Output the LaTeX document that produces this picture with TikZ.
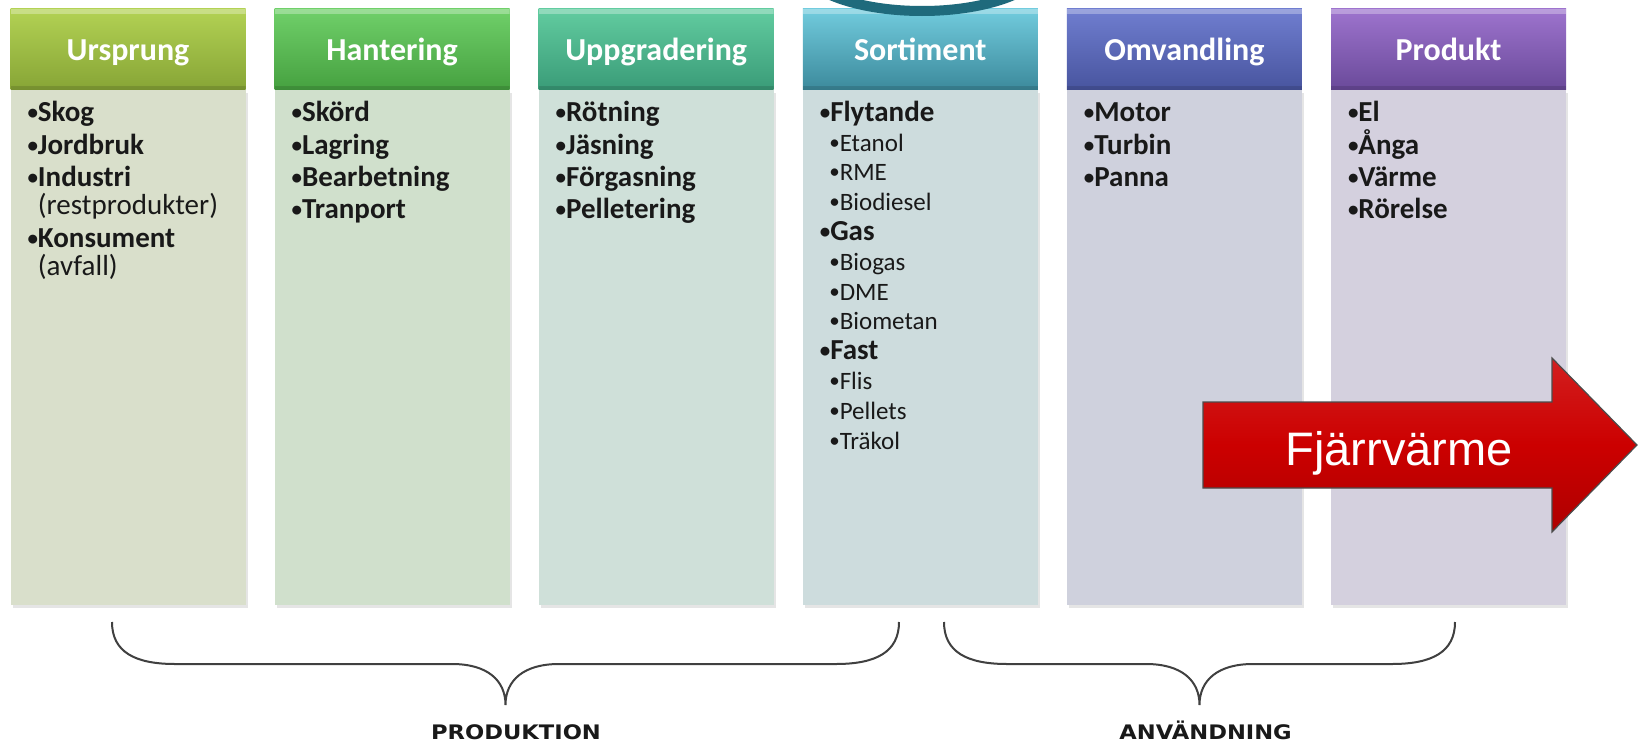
\documentclass[tikz,border=0pt]{standalone}
\usepackage{fontspec}
\setmainfont{Carlito}
\newfontfamily\arrowfont{Liberation Sans}
\newfontfamily\bracefont{DejaVu Sans}
\usetikzlibrary{positioning,shadows}

% header / body colours
\definecolor{urspTop}{HTML}{B3D254}
\definecolor{urspBot}{HTML}{87A536}
\definecolor{urspBody}{HTML}{D9DFCB}
\definecolor{hantTop}{HTML}{70D06A}
\definecolor{hantBot}{HTML}{46A140}
\definecolor{hantBody}{HTML}{D0E0CC}
\definecolor{uppgTop}{HTML}{62CCA0}
\definecolor{uppgBot}{HTML}{3A9C78}
\definecolor{uppgBody}{HTML}{CFE0D9}
\definecolor{sortTop}{HTML}{72CCDE}
\definecolor{sortBot}{HTML}{3C8A9C}
\definecolor{sortBody}{HTML}{CDDCDD}
\definecolor{omvTop}{HTML}{707ED0}
\definecolor{omvBot}{HTML}{48559F}
\definecolor{omvBody}{HTML}{CFD1DD}
\definecolor{prodTop}{HTML}{9E74CE}
\definecolor{prodBot}{HTML}{6A4A9A}
\definecolor{prodBody}{HTML}{D4D0DE}
\definecolor{arcteal}{HTML}{1F6A7C}
\definecolor{arrowred}{HTML}{CC0000}

\newcommand{\mainfnt}{\bfseries\fontsize{29}{31}\selectfont}
\newcommand{\subfnt}{\fontsize{25}{27}\selectfont}
\newcommand{\bul}{{\fontsize{21}{21}\selectfont\raisebox{2pt}{•}}}

\begin{document}
\begin{tikzpicture}[x=1pt, y=-1pt,
    header/.style={minimum width=235pt, minimum height=81pt, inner sep=0pt,
        text height=24pt, text depth=1pt,
        text=white, font=\bfseries\fontsize{32}{34}\selectfont,
        path picture={
            \fill[white, opacity=.3] (path picture bounding box.north west)
                rectangle ([yshift=-5pt]path picture bounding box.north east);
            \fill[black, opacity=.12] ([yshift=4pt]path picture bounding box.south west)
                rectangle (path picture bounding box.south east);}},
    body/.style={minimum width=235pt, minimum height=515.5pt, inner sep=0pt,
        drop shadow={shadow xshift=2pt, shadow yshift=-3pt, opacity=.2}},
    item/.style={anchor=base west, inner sep=0pt, xshift=17pt, font=\mainfnt, text=black!90},
    curlybrace/.style={draw=black!75, line width=2pt},
    bracelabel/.style={anchor=base, inner sep=0pt, font=\bracefont\bfseries\fontsize{20}{22}\selectfont, text=black!90}]

    \fill[white] (0,0) rectangle (1639,744);
    \useasboundingbox (0,0) rectangle (1639,744);

    % Headers
    \node[header, top color=urspTop, bottom color=urspBot] (ursprung) at (128,49) {Ursprung};
    \node[header, top color=hantTop, bottom color=hantBot, right=28.7pt of ursprung] (hantering) {Hantering};
    \node[header, top color=uppgTop, bottom color=uppgBot, right=28.7pt of hantering] (uppgradering) {Uppgradering};
    \node[header, top color=sortTop, bottom color=sortBot, right=28.7pt of uppgradering] (sortiment) {Sortiment};
    \node[header, top color=omvTop, bottom color=omvBot, right=28.7pt of sortiment] (omvandling) {Omvandling};
    \node[header, top color=prodTop, bottom color=prodBot, right=28.7pt of omvandling] (produkt) {Produkt};

    % Ring cut by the top edge
    \begin{scope}
        \clip (0,0) rectangle (1639,744);
        \draw[arcteal, line width=10pt] (922,-38) ellipse [x radius=124, y radius=49];
    \end{scope}

    % Bodies
    \node[body, fill=urspBody, below=0pt of ursprung] (ursprungbody) {};
    \node[body, fill=hantBody, below=0pt of hantering] (hanteringbody) {};
    \node[body, fill=uppgBody, below=0pt of uppgradering] (uppgraderingbody) {};
    \node[body, fill=sortBody, below=0pt of sortiment] (sortimentbody) {};
    \node[body, fill=omvBody, below=0pt of omvandling] (omvandlingbody) {};
    \node[body, fill=prodBody, below=0pt of produkt] (produktbody) {};

    % Ursprung items
    \node[item] (skog) at ([yshift=-32pt]ursprungbody.north west) {\bul Skog};
    \node[item] (jordbruk) at ([yshift=-64.4pt]ursprungbody.north west) {\bul Jordbruk};
    \node[item] (industri) at ([yshift=-96.8pt]ursprungbody.north west) {\bul Industri};
    \node[item, font=\mdseries\fontsize{29}{31}\selectfont] (rest) at ([yshift=-125pt]ursprungbody.north west) {\phantom{\bfseries\bul}(restprodukter)};
    \node[item] (konsument) at ([yshift=-157.4pt]ursprungbody.north west) {\bul Konsument};
    \node[item, font=\mdseries\fontsize{29}{31}\selectfont] (avfall) at ([yshift=-185.6pt]ursprungbody.north west) {\phantom{\bfseries\bul}(avfall)};

    % Plain lists
    \foreach \col/\items in {hanteringbody/{Skörd,Lagring,Bearbetning,Tranport},
                             uppgraderingbody/{Rötning,Jäsning,Förgasning,Pelletering},
                             omvandlingbody/{Motor,Turbin,Panna},
                             produktbody/{El,Ånga,Värme,Rörelse}}
        \foreach \txt [count=\i] in \items
            \node[item] (\col-\i) at ([yshift={-32pt-(\i-1)*32.4pt}]\col.north west) {\bul\txt};

    % Sortiment list with sub items
    \foreach \f/\dx/\txt [count=\i] in {\mainfnt/0/Flytande, \subfnt/9.5/Etanol, \subfnt/9.5/RME,
            \subfnt/9.5/Biodiesel, \mainfnt/0/Gas, \subfnt/9.5/Biogas, \subfnt/9.5/DME,
            \subfnt/9.5/Biometan, \mainfnt/0/Fast, \subfnt/9.5/Flis, \subfnt/9.5/Pellets,
            \subfnt/9.5/Träkol}
        \node[item, font=\f, xshift=\dx pt] (sortimentbody-\i) at ([yshift={-31.5pt-(\i-1)*29.8pt}]sortimentbody.north west) {\bul\txt};

    % Arrow
    \draw[draw=black!70, line width=1.2pt, top color=arrowred!88!white, bottom color=arrowred!85!black, middle color=arrowred]
        (1203,402) -- (1552,402) -- (1552,358) -- (1637,445) -- (1552,532) -- (1552,488) -- (1203,488) -- cycle;
    \node[anchor=base, inner sep=0pt, text=white, font=\arrowfont\fontsize{47}{50}\selectfont] (fjarrvarme) at (1399,465) {Fjärrvärme};

    % Braces
    \draw[curlybrace] (112,622) .. controls (112,652) and (135,664) .. (175,664) -- (452,664)
        .. controls (487,664) and (505.5,680) .. (505.5,705)
        .. controls (505.5,680) and (524,664) .. (559,664) -- (836,664)
        .. controls (876,664) and (899,652) .. (899,622);
    \draw[curlybrace] (944,622) .. controls (944,652) and (967,664) .. (1007,664) -- (1146,664)
        .. controls (1181,664) and (1199.5,680) .. (1199.5,705)
        .. controls (1199.5,680) and (1218,664) .. (1253,664) -- (1392,664)
        .. controls (1432,664) and (1455,652) .. (1455,622);

    \node[bracelabel] (produktion) at (516,739) {\scalebox{1.13}[1]{PRODUKTION}};
    \node[bracelabel] (anvandning) at (1205.6,739) {\scalebox{1.13}[1]{ANVÄNDNING}};

\end{tikzpicture}
\end{document}
